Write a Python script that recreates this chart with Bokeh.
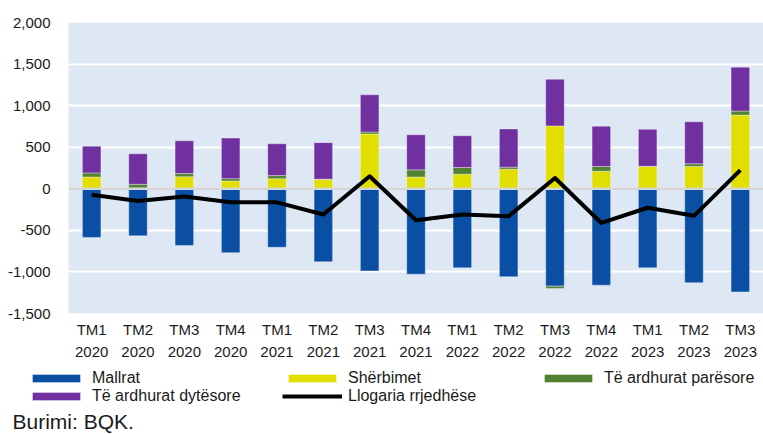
from bokeh.plotting import figure
from bokeh.layouts import column
from bokeh.models import (Range1d, FixedTicker, NumeralTickFormatter, LinearAxis,
                          Span, Legend, LegendItem, Label, ColumnDataSource)
from bokeh.embed import file_html
from bokeh.resources import INLINE

# ---- data (million euro) ----
quarters = ["TM1", "TM2", "TM3", "TM4", "TM1", "TM2", "TM3", "TM4",
            "TM1", "TM2", "TM3", "TM4", "TM1", "TM2", "TM3"]
years = ["2020", "2020", "2020", "2020", "2021", "2021", "2021", "2021",
         "2022", "2022", "2022", "2022", "2023", "2023", "2023"]
mallrat = [-585, -565, -683, -768, -703, -878, -988, -1028, -951, -1057, -1171, -1159, -951, -1130, -1240]
sherbimet = [142, 5, 146, 93, 122, 114, 659, 142, 175, 236, 756, 211, 268, 268, 886]
ardhurat_paresore = [49, 49, 37, 29, 37, 2, 24, 86, 81, 24, -28, 57, 3, 33, 49]
ardhurat_dytesore = [321, 366, 394, 488, 382, 439, 447, 422, 382, 460, 561, 484, 444, 504, 528]
llogaria_rrjedhese = [-73, -146, -93, -163, -163, -309, 150, -378, -309, -329, 130, -411, -228, -325, 224]
y_ticks = [-1500, -1000, -500, 0, 500, 1000, 1500, 2000]

series_names = ["Mallrat", "Shërbimet", "Të ardhurat parësore", "Të ardhurat dytësore"]
series_values = [mallrat, sherbimet, ardhurat_paresore, ardhurat_dytesore]
series_colors = ["#0A4FA3", "#E2DE00", "#548235", "#7030A0"]
line_name = "Llogaria rrjedhëse"
source_note = "Burimi: BQK."

FONT = "Liberation Sans"
TXT = "#1a1a1a"
W = 763

n = len(quarters)
xpos = list(range(1, n + 1))

p = figure(x_range=Range1d(0.5, n + 0.5), y_range=Range1d(-1500, 2000),
           width=W, height=363, output_backend="svg", toolbar_location=None,
           min_border_left=68, min_border_right=0, min_border_top=22, min_border_bottom=50,
           background_fill_color="#DDE8F4", border_fill_color="white",
           outline_line_color=None, x_axis_type=None)

# stacked bars with separate positive / negative stacking
pos = [0.0] * n
neg = [0.0] * n
sources = []
for name, vals, col in zip(series_names, series_values, series_colors):
    bottoms, tops = [], []
    for i, v in enumerate(vals):
        if v >= 0:
            bottoms.append(pos[i]); tops.append(pos[i] + v); pos[i] += v
        else:
            tops.append(neg[i]); bottoms.append(neg[i] + v); neg[i] += v
    src = ColumnDataSource(dict(x=xpos, bottom=bottoms, top=tops))
    sources.append(src)
    p.vbar(x="x", bottom="bottom", top="top", width=0.4, source=src,
           fill_color=col, line_color="white", line_alpha=0.35, line_width=1)

zero = Span(location=0, dimension="width", line_color="#D6D6D6", line_width=2.5)
p.add_layout(zero)

line_src = ColumnDataSource(dict(x=xpos, y=llogaria_rrjedhese))
p.line(x="x", y="y", source=line_src, line_color="black", line_width=4,
       line_join="round", level="overlay")

# grid
p.xgrid.ticker = FixedTicker(ticks=[x + 0.5 for x in xpos[:-1]])
p.xgrid.grid_line_color = "white"
p.xgrid.grid_line_width = 2
p.ygrid.ticker = FixedTicker(ticks=y_ticks)
p.ygrid.grid_line_color = "white"
p.ygrid.grid_line_width = 2

# y axis
p.yaxis.ticker = FixedTicker(ticks=y_ticks)
p.yaxis.formatter = NumeralTickFormatter(format="0,0")
p.yaxis.axis_line_color = None
p.yaxis.major_tick_line_color = None
p.yaxis.minor_tick_line_color = None
p.yaxis.major_label_standoff = 12
p.yaxis.major_label_text_font = FONT
p.yaxis.major_label_text_font_size = "15px"
p.yaxis.major_label_text_color = TXT

# x axes: quarter line and year line
def make_x(labels, standoff):
    ax = LinearAxis(ticker=FixedTicker(ticks=xpos),
                    major_label_overrides={x: lab for x, lab in zip(xpos, labels)})
    ax.axis_line_color = None
    ax.major_tick_line_color = None
    ax.minor_tick_line_color = None
    ax.major_label_standoff = standoff
    ax.major_label_text_font = FONT
    ax.major_label_text_font_size = "15px"
    ax.major_label_text_color = TXT
    return ax

p.add_layout(make_x(quarters, 1), "below")
p.add_layout(make_x(years, 0), "below")

# ---- legend + source strip (same data, drawn out of view; only legend shows) ----
q = figure(width=W, height=71, output_backend="svg", toolbar_location=None,
           x_range=Range1d(-n, 0), y_range=Range1d(-1500, 2000),
           min_border_left=0, min_border_right=0, min_border_top=0, min_border_bottom=0,
           outline_line_color=None, x_axis_type=None, y_axis_type=None,
           border_fill_color="white", background_fill_color="white")
q.xgrid.visible = False
q.ygrid.visible = False
for fig in (p, q):
    try:
        fig.frame_align = False
    except Exception:
        pass

items = []
for name, col, src in zip(series_names, series_colors, sources):
    r = q.vbar(x="x", bottom="bottom", top="top", width=0.4, source=src, fill_color=col,
               line_color="white", line_alpha=0.35, line_width=1)
    items.append(LegendItem(label=name, renderers=[r]))
rl = q.line(x="x", y="y", source=line_src, line_color="black", line_width=4)
items.append(LegendItem(label=line_name, renderers=[rl]))

legend = Legend(items=items, location=(26, 29), orientation="horizontal", ncols=3,
                glyph_width=60, glyph_height=10, label_standoff=6, label_width=190,
                label_height=18, spacing=0, padding=2, margin=0,
                border_line_color=None, background_fill_alpha=0,
                label_text_font=FONT, label_text_font_size="16px", label_text_color=TXT)
q.add_layout(legend)

note = Label(x=12, y=2, x_units="screen", y_units="screen", text=source_note,
             text_font=FONT, text_font_size="21px", text_color=TXT,
             text_baseline="bottom", text_align="left")
q.add_layout(note)

layout = column(p, q, spacing=0)
open("out.html", "w").write(file_html(layout, INLINE))
